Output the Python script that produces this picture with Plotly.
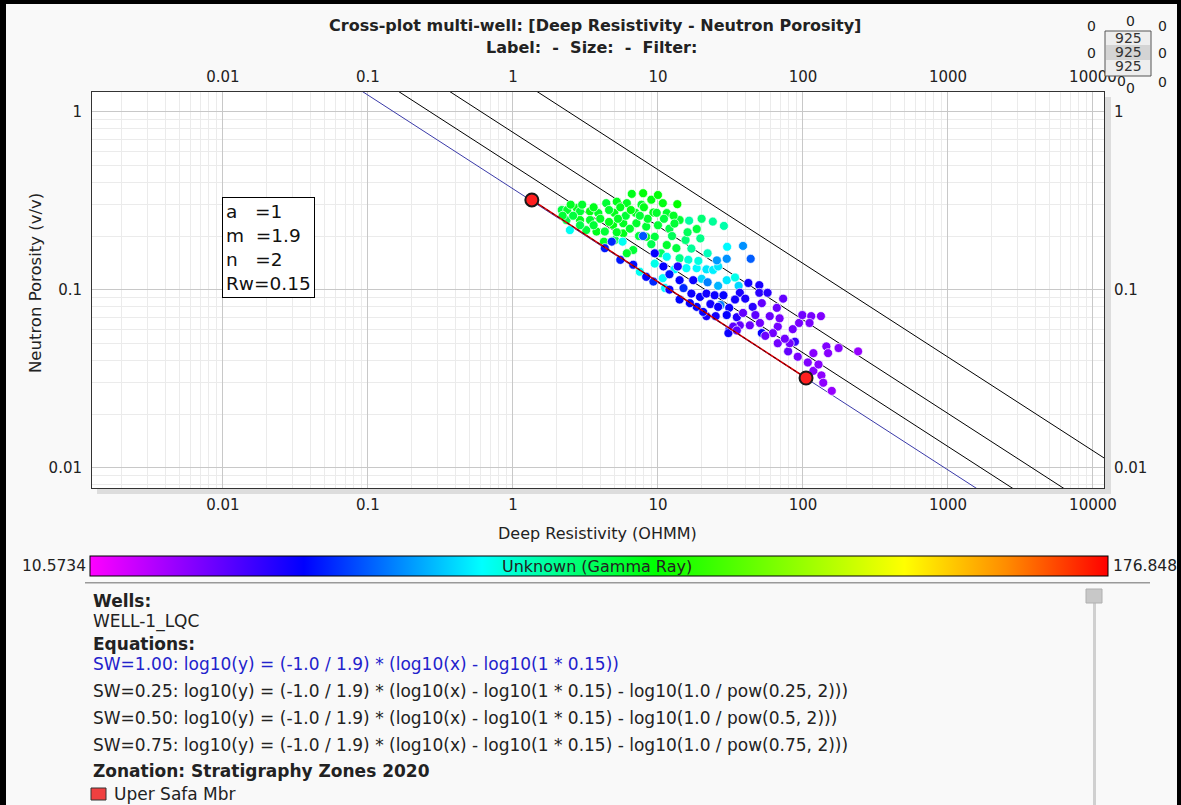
import plotly.graph_objects as go

# ---------------- data ----------------
A_PARAM = 1.0
M_PARAM = 1.9
N_PARAM = 2.0
RW = 0.15
SW_VALUES = [1.00, 0.25, 0.50, 0.75]
SW_COLORS = ["#3a3aa8", "#000000", "#000000", "#000000"]
X_LINE_ENDS = [0.001, 20000.0]

GR_MIN = 10.5734
GR_MAX = 176.848

res = [6.6, 7.9, 10.8, 13.6, 6.1, 7.7, 5.2, 4.4, 9.3, 11.5, 14.1, 16.4, 18.5, 19.6, 23.9, 28.5,
       2.17, 2.37, 2.75, 2.9, 3.4, 3.88, 2.34, 2.9, 3.4, 3.2, 3.77, 4.3, 4.9, 5.76, 5.76, 7.1,
       8.3, 8.3, 9.5, 6.75, 6.1, 4.24, 5.05, 11.5, 13.4, 14.1,
       4.0, 5.0, 6.0, 7.0, 8.5, 10.0, 12.0, 9.0, 5.5, 3.0, 2.6, 12.5, 15.5, 17.0, 10.5, 2.47,
       2.2, 2.5, 3.6, 4.6, 5.3, 6.5, 7.5, 8.0, 9.8, 11, 12.8, 6.4, 7.4, 9, 4.6, 3.6, 2.9, 5.2,
       16, 13, 20, 10,
       30, 5.7, 11.5, 16.2, 15.7, 18.5, 21.6, 24, 29.8, 34, 10.8, 7.5, 11.2, 20, 26,
       13, 9.5, 19, 22, 26, 36,
       38.6, 29.8, 25.5, 27, 43.6, 22,
       4.3, 4.8, 7.9, 9.5, 10.9, 13.7, 14.1, 17.5, 9.3, 8.3, 15, 17, 19.5, 21.6, 24.6, 28.3,
       31, 36.7, 40, 42, 50, 50, 57, 18.5, 21.6, 25, 29.8, 52, 31, 88, 5.5, 6.75, 14.1, 16.6,
       20.5, 30.6, 12, 23, 26, 35, 45, 12, 34,
       73, 52, 66, 38.6, 36.7, 43, 50.5, 59, 67, 69, 62, 33, 35, 67, 79, 94, 99, 114, 133,
       111, 118, 145, 176, 240, 149, 108, 118, 134, 138, 158, 81, 75,
       47, 55, 85, 92, 128]

phi = [0.345, 0.348, 0.306, 0.302, 0.306, 0.30, 0.312, 0.306, 0.271, 0.269, 0.246, 0.244, 0.219, 0.194, 0.241, 0.228,
       0.28, 0.28, 0.287, 0.275, 0.275, 0.269, 0.246, 0.246, 0.246, 0.216, 0.212, 0.212, 0.231, 0.236, 0.207, 0.236,
       0.226, 0.198, 0.198, 0.167, 0.16, 0.186, 0.19, 0.178, 0.171, 0.15,
       0.25, 0.27, 0.26, 0.27, 0.25, 0.23, 0.22, 0.32, 0.29, 0.30, 0.26, 0.20, 0.19, 0.17, 0.16, 0.216,
       0.26, 0.30, 0.29, 0.28, 0.25, 0.28, 0.26, 0.29, 0.27, 0.25, 0.26, 0.22, 0.20, 0.18, 0.24, 0.23, 0.23, 0.21,
       0.21, 0.235, 0.25, 0.34,
       0.174, 0.186, 0.153, 0.147, 0.132, 0.132, 0.13, 0.129, 0.113, 0.117, 0.116, 0.126, 0.102, 0.115, 0.105,
       0.13, 0.14, 0.145, 0.16, 0.135, 0.105,
       0.176, 0.149, 0.146, 0.082, 0.149, 0.11,
       0.171, 0.186, 0.2, 0.16, 0.135, 0.135, 0.113, 0.113, 0.111, 0.118, 0.102, 0.095, 0.091, 0.095, 0.093, 0.093,
       0.079, 0.096, 0.089, 0.109, 0.106, 0.096, 0.096, 0.08, 0.071, 0.071, 0.072, 0.057, 0.059, 0.051, 0.147, 0.138, 0.088, 0.084,
       0.075, 0.057, 0.10, 0.083, 0.08, 0.07, 0.08, 0.122, 0.088,
       0.089, 0.084, 0.079, 0.074, 0.063, 0.063, 0.065, 0.071, 0.062, 0.069, 0.057, 0.062, 0.059, 0.050, 0.045, 0.065, 0.072, 0.071, 0.071,
       0.065, 0.044, 0.048, 0.047, 0.045, 0.044, 0.039, 0.035, 0.033, 0.030, 0.027, 0.05, 0.053,
       0.072, 0.055, 0.06, 0.042, 0.038]

gr = [100, 102, 101, 103, 99, 98, 100, 97, 100, 98, 97, 85, 96, 88, 86, 84,
      96, 98, 100, 97, 101, 99, 95, 100, 98, 96, 100, 97, 101, 99, 100, 98,
      97, 99, 96, 97, 98, 99, 94, 98, 96, 88,
      99, 100, 97, 99, 98, 97, 95, 101, 100, 98, 96, 93, 90, 86, 92, 76,
      97, 99, 100, 98, 99, 101, 97, 100, 98, 96, 99, 98, 96, 94, 100, 97, 95, 99,
      93, 97, 90, 102,
      74, 76, 76, 79, 75, 74, 72, 73, 72, 77, 75, 76, 74, 70, 66,
      74, 77, 78, 82, 72, 70,
      62, 62, 63, 60, 56, 60,
      48, 50, 55, 45, 45, 42, 45, 44, 50, 46, 50, 44, 45, 43, 44, 45,
      44, 42, 42, 43, 42, 40, 40, 46, 42, 43, 45, 45, 45, 38, 48, 47, 46, 45,
      45, 44, 44, 43, 44, 41, 40, 48, 43,
      32, 32, 31, 32, 32, 31, 30, 31, 30, 29, 30, 33, 33, 30, 32, 29, 30, 29, 28,
      29, 27, 28, 27, 25, 27, 28, 27, 26, 26, 25, 30, 30,
      33, 31, 30, 29, 27]

zone_res = [1.35, 105.0]
zone_phi = [0.319, 0.0319]

x_tickvals = [0.01, 0.1, 1, 10, 100, 1000, 10000]
x_ticktext = ["0.01", "0.1", "1", "10", "100", "1000", "10000"]
y_tickvals = [0.01, 0.1, 1]
y_ticktext = ["0.01", "0.1", "1"]

equations = [
    "SW=1.00: log10(y) = (-1.0 / 1.9) * (log10(x) - log10(1 * 0.15))",
    "SW=0.25: log10(y) = (-1.0 / 1.9) * (log10(x) - log10(1 * 0.15) - log10(1.0 / pow(0.25, 2)))",
    "SW=0.50: log10(y) = (-1.0 / 1.9) * (log10(x) - log10(1 * 0.15) - log10(1.0 / pow(0.5, 2)))",
    "SW=0.75: log10(y) = (-1.0 / 1.9) * (log10(x) - log10(1 * 0.15) - log10(1.0 / pow(0.75, 2)))",
]

COLORSCALE = [[0.0, "#ff00ff"], [0.21, "#0000ff"], [0.385, "#00ffff"],
              [0.555, "#00ff00"], [0.80, "#ffff00"], [0.90, "#ff8c00"], [1.0, "#ff0000"]]

# ---------------- layout geometry ----------------
W_FIG, H_FIG = 1181, 805
L, R, T, B = 92, 1104, 92, 488
PW, PH = R - L, B - T
FONT = "DejaVu Sans, Verdana, sans-serif"

MINOR_VALS = [k * 10.0 ** d for d in range(-3, 5) for k in range(2, 10)]


def px(x):
    return (x - L) / PW


def py(y):
    return (B - y) / PH


fig = go.Figure()

# Archie lines
for sw, col in zip(SW_VALUES, SW_COLORS):
    ys = [(A_PARAM * RW / (x * sw ** N_PARAM)) ** (1.0 / M_PARAM) for x in X_LINE_ENDS]
    fig.add_trace(go.Scatter(x=X_LINE_ENDS, y=ys, mode="lines",
                             line=dict(color=col, width=1), hoverinfo="skip", showlegend=False))

# points
fig.add_trace(go.Scatter(
    x=res, y=phi, mode="markers", showlegend=False,
    marker=dict(size=9, color=gr, colorscale=COLORSCALE, cmin=GR_MIN, cmax=GR_MAX,
                line=dict(color="white", width=0.7),
                colorbar=dict(orientation="h", thickness=20, thicknessmode="pixels",
                              len=1018, lenmode="pixels", x=px(90), xanchor="left",
                              y=py(556), yanchor="top", showticklabels=False, ticks="",
                              outlinecolor="#000000", outlinewidth=1, xpad=0, ypad=0)),
))

# zone line and points
fig.add_trace(go.Scatter(x=zone_res, y=zone_phi, mode="lines",
                         line=dict(color="#e00000", width=1.5), showlegend=False, hoverinfo="skip"))
fig.add_trace(go.Scatter(x=zone_res, y=zone_phi, mode="lines",
                         line=dict(color="#500000", width=1, dash="dot"), showlegend=False, hoverinfo="skip"))
fig.add_trace(go.Scatter(x=zone_res, y=zone_phi, mode="markers", showlegend=False,
                         marker=dict(size=13, color="#ff2020", line=dict(color="#1a1a1a", width=2))))

# invisible trace for secondary axes
fig.add_trace(go.Scatter(x=[1], y=[0.1], xaxis="x2", yaxis="y2", mode="markers",
                         marker=dict(opacity=0), showlegend=False, hoverinfo="skip"))

xr = [-2.903, 4.076]
yr = [-2.114, 0.11]
tickfont = dict(family=FONT, size=15, color="#222222")

common_x = dict(type="log", range=xr, tickvals=x_tickvals, ticktext=x_ticktext, tickfont=tickfont,
                ticks="outside", ticklen=3, tickcolor="rgba(0,0,0,0)")
common_y = dict(type="log", range=yr, tickvals=y_tickvals, ticktext=y_ticktext, tickfont=tickfont,
                ticks="outside", ticklen=6, tickcolor="rgba(0,0,0,0)")
minor = dict(tickvals=MINOR_VALS, showgrid=True, gridcolor="#ebebeb", gridwidth=1, ticks="")

fig.update_layout(
    width=W_FIG, height=H_FIG,
    margin=dict(l=L, r=W_FIG - R, t=T, b=H_FIG - B, autoexpand=False),
    paper_bgcolor="#f9f9f9", plot_bgcolor="#ffffff",
    font=dict(family=FONT, size=13, color="#222222"),
    xaxis=dict(**common_x, showgrid=True, gridcolor="#c8c8c8", gridwidth=1, minor=minor,
               showline=True, linecolor="#333333", linewidth=1, mirror=True, zeroline=False),
    yaxis=dict(**common_y, showgrid=True, gridcolor="#c8c8c8", gridwidth=1, minor=minor,
               showline=True, linecolor="#333333", linewidth=1, mirror=True, zeroline=False),
    xaxis2=dict(**common_x, overlaying="x", side="top", anchor="y", showgrid=False, showline=False),
    yaxis2=dict(**common_y, overlaying="y", side="right", anchor="x", showgrid=False, showline=False),
    showlegend=False,
)

ann = []


def text(x, y, s, size=13, xanchor="left", color="#222222", **kw):
    ann.append(dict(x=px(x), y=py(y), xref="paper", yref="paper", text=s, showarrow=False,
                    xanchor=xanchor, yanchor="middle", font=dict(family=FONT, size=size, color=color), **kw))


# titles
text(595, 26, "<b>Cross-plot multi-well: [Deep Resistivity - Neutron Porosity]</b>", size=16, xanchor="center")
text(591, 48, "<b>Label:  -  Size:  -  Filter:</b>", size=16, xanchor="center")
text(597, 533, "Deep Resistivity (OHMM)", size=16, xanchor="center")
ann.append(dict(x=px(35), y=py(283), xref="paper", yref="paper", text="Neutron Porosity (v/v)",
                showarrow=False, textangle=-90, xanchor="center", yanchor="middle",
                font=dict(family=FONT, size=16.5, color="#222222")))

# parameter box
ann.append(dict(x=px(222), y=py(197), xref="paper", yref="paper", xanchor="left", yanchor="top",
                text="a   =1<br>m  =1.9<br>n   =2<br>Rw=0.15", align="left", showarrow=False,
                bgcolor="#ffffff", bordercolor="#000000", borderwidth=1, borderpad=3,
                font=dict(family=FONT, size=18.5, color="#111111")))

# colorbar labels
text(88, 566, "10.5734", size=15.5, xanchor="right")
text(1111, 566, "176.848", size=15.5, xanchor="left")
text(597, 566, "Unknown (Gamma Ray)", size=16, xanchor="center")

# info text
text(91, 601, "<b>Wells:</b>", size=17)
text(91, 621, "WELL-1_LQC", size=17)
text(91, 644, "<b>Equations:</b>", size=17)
eq_y = [664, 691, 718, 745]
for s, yy, col in zip(equations, eq_y, ["#2222cc", "#222222", "#222222", "#222222"]):
    text(91, yy, s, size=17, color=col)
text(91, 771, "<b>Zonation: Stratigraphy Zones 2020</b>", size=17)
text(112, 794, "Uper Safa Mbr", size=17)

# widget numbers at top right
for (xx, yy) in [(1091, 26), (1130, 21), (1162, 26), (1091, 53), (1162, 53),
                 (1121, 81), (1130, 88), (1162, 82)]:
    text(xx, yy, "0", size=14, xanchor="center")
for yy in [38, 52, 66]:
    text(1128, yy, "925", size=14, xanchor="center", color="#333333")

shapes = []


def rect(x0, y0, x1, y1, fill, line=None, lw=0, layer="above"):
    shapes.append(dict(type="rect", xref="paper", yref="paper", x0=px(x0), x1=px(x1),
                       y0=py(y0), y1=py(y1), fillcolor=fill,
                       line=dict(color=line or fill, width=lw), layer=layer))


# plot shadow
rect(1105, 97, 1111, 494, "#dddddd")
rect(97, 489, 1111, 494, "#dddddd")
# widget box
rect(1105, 31, 1151, 76, "#eeeeee", "#555555", 1)
rect(1106, 45, 1150, 60, "#d4d4d4")
# separator
rect(85, 582, 1150, 583.5, "#9a9a9a")
# scroll bar
rect(1093, 603, 1096, 805, "#d0d0d0")
rect(1086, 589, 1102, 603, "#c8c8c8", "#b0b0b0", 1)
# zone legend swatch
rect(91, 788, 106, 800, "#f04040", "#333333", 1)
# outer frame
rect(0, 0, 1181, 4, "#000000")
rect(0, 0, 6, 805, "#000000")
rect(1177, 0, 1181, 805, "#000000")

fig.update_layout(annotations=ann, shapes=shapes)

fig.write_html("out.html")
